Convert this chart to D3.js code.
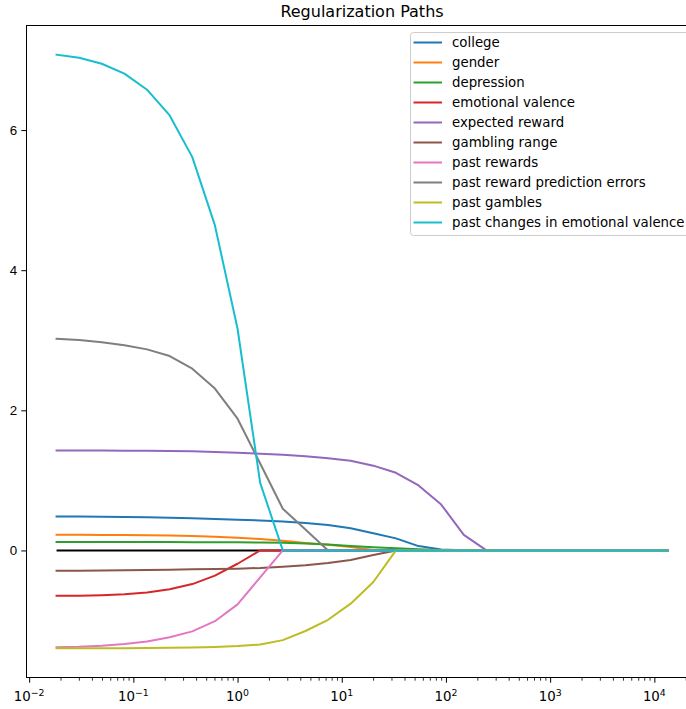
<!DOCTYPE html>
<html>
<head>
<meta charset="utf-8">
<script src="https://cdn.jsdelivr.net/npm/d3@7"></script>
<style>
  body { margin: 0; background: #fff; }
  svg { display: block; font-family: "DejaVu Sans", sans-serif; }
</style>
</head>
<body>
<svg id="chart" width="686" height="709"></svg>
<script>
// alpha values (x), one per fit
const alphas = [0.018316, 0.030197, 0.049787, 0.082085, 0.135335, 0.223130, 0.367879, 0.606531,
    1, 1.648721, 2.718282, 4.481689, 7.389056, 12.182494, 20.085537, 33.115452, 54.598150,
    90.017131, 148.413159, 244.691932, 403.428793, 665.141633, 1096.633158, 1808.042414,
    2980.957987, 4914.768840, 8103.083928, 13359.726830];

const names = ['college', 'gender', 'depression', 'emotional valence', 'expected reward',
    'gambling range', 'past rewards', 'past reward prediction errors', 'past gambles',
    'past changes in emotional valence'];

// coefficient paths
const college = [0.484, 0.483, 0.481, 0.478, 0.473, 0.466, 0.458, 0.449, 0.439, 0.428, 0.412, 0.392, 0.362, 0.318, 0.245, 0.172, 0.062, 0.015, 0.003, 0, 0, 0, 0, 0, 0, 0, 0, 0];
const gender = [0.223, 0.223, 0.222, 0.220, 0.217, 0.213, 0.206, 0.196, 0.182, 0.162, 0.137, 0.107, 0.080, 0.050, 0.008, 0, 0, 0, 0, 0, 0, 0, 0, 0, 0, 0, 0, 0];
const depression = [0.120, 0.120, 0.120, 0.120, 0.119, 0.119, 0.118, 0.117, 0.116, 0.114, 0.110, 0.100, 0.085, 0.065, 0.045, 0.030, 0.018, 0.008, 0.003, 0, 0, 0, 0, 0, 0, 0, 0, 0];
const emotionalValence = [-0.648, -0.645, -0.638, -0.625, -0.600, -0.555, -0.480, -0.360, -0.190, 0, 0, 0, 0, 0, 0, 0, 0, 0, 0, 0, 0, 0, 0, 0, 0, 0, 0, 0];
const expectedReward = [1.426, 1.426, 1.425, 1.424, 1.422, 1.419, 1.414, 1.405, 1.395, 1.380, 1.365, 1.345, 1.315, 1.280, 1.210, 1.108, 0.927, 0.655, 0.223, 0, 0, 0, 0, 0, 0, 0, 0, 0];
const gamblingRange = [-0.291, -0.289, -0.286, -0.282, -0.278, -0.274, -0.270, -0.265, -0.260, -0.250, -0.232, -0.210, -0.180, -0.135, -0.065, 0, 0, 0, 0, 0, 0, 0, 0, 0, 0, 0, 0, 0];
const pastRewards = [-1.382, -1.375, -1.360, -1.335, -1.300, -1.240, -1.155, -1.010, -0.770, -0.385, 0, 0, 0, 0, 0, 0, 0, 0, 0, 0, 0, 0, 0, 0, 0, 0, 0, 0];
const pastRPE = [3.021, 3.005, 2.973, 2.930, 2.870, 2.775, 2.595, 2.310, 1.880, 1.240, 0.595, 0.300, 0, 0, 0, 0, 0, 0, 0, 0, 0, 0, 0, 0, 0, 0, 0, 0];
const pastGambles = [-1.397, -1.397, -1.396, -1.395, -1.393, -1.390, -1.385, -1.377, -1.365, -1.342, -1.280, -1.150, -0.990, -0.760, -0.450, 0, 0, 0, 0, 0, 0, 0, 0, 0, 0, 0, 0, 0];
const pastChangesEV = [7.076, 7.033, 6.947, 6.805, 6.576, 6.209, 5.614, 4.639, 3.164, 0.965, 0, 0, 0, 0, 0, 0, 0, 0, 0, 0, 0, 0, 0, 0, 0, 0, 0, 0];

const series = [college, gender, depression, emotionalValence, expectedReward,
    gamblingRange, pastRewards, pastRPE, pastGambles, pastChangesEV];

const xMajorTicks = [1e-2, 1e-1, 1e0, 1e1, 1e2, 1e3, 1e4];
const xTickExps = ['\u22122', '\u22121', '0', '1', '2', '3', '4'];
const yTicks = [0, 2, 4, 6];

const colors = ['#1f77b4', '#ff7f0e', '#2ca02c', '#d62728', '#9467bd',
    '#8c564b', '#e377c2', '#7f7f7f', '#bcbd22', '#17becf'];

const svg = d3.select('#chart');
const box = { left: 26, right: 698, top: 25, bottom: 678 };

// matplotlib-like 5% margins
const lx = d3.extent(alphas).map(Math.log10);
const mx = (lx[1] - lx[0]) * 0.05;
const x = d3.scaleLog()
    .domain([Math.pow(10, lx[0] - mx), Math.pow(10, lx[1] + mx)])
    .range([box.left, box.right]);

const ext = d3.extent(series.flat());
const my = (ext[1] - ext[0]) * 0.05;
const y = d3.scaleLinear()
    .domain([ext[0] - my, ext[1] + my])
    .range([box.bottom, box.top]);

svg.append('defs').append('clipPath').attr('id', 'plot')
    .append('rect')
    .attr('x', box.left).attr('y', box.top)
    .attr('width', box.right - box.left).attr('height', box.bottom - box.top);

const line = d3.line()
    .x((d, i) => x(alphas[i]))
    .y(d => y(d));

const plot = svg.append('g').attr('clip-path', 'url(#plot)');

// black zero line underneath
plot.append('path')
    .datum(alphas.map(() => 0))
    .attr('d', line)
    .attr('fill', 'none')
    .attr('stroke', '#000')
    .attr('stroke-width', 2);

plot.selectAll('.path')
    .data(series)
    .enter().append('path')
    .attr('class', 'path')
    .attr('d', line)
    .attr('fill', 'none')
    .attr('stroke', (d, i) => colors[i])
    .attr('stroke-width', 2)
    .attr('stroke-linejoin', 'round')
    .attr('stroke-linecap', 'square');

// Y axis
const yAxis = svg.append('g')
    .attr('transform', `translate(${box.left},0)`)
    .call(d3.axisLeft(y).tickValues(yTicks).tickFormat(d3.format('d'))
        .tickSize(4.7).tickPadding(4.2).tickSizeOuter(0));
yAxis.select('.domain').remove();
yAxis.selectAll('text').style('font-size', '13.33px').attr('fill', '#000');
yAxis.selectAll('line').attr('stroke', '#000').attr('stroke-width', 1);

// X axis: minor ticks
const minor = [];
for (let e = -3; e <= 4; e++) {
    for (let m = 2; m <= 9; m++) {
        const v = m * Math.pow(10, e);
        if (v >= x.domain()[0] && v <= x.domain()[1]) minor.push(v);
    }
}
const xMinor = svg.append('g')
    .attr('transform', `translate(0,${box.bottom})`)
    .call(d3.axisBottom(x).tickValues(minor).tickFormat('').tickSize(2.7).tickSizeOuter(0));
xMinor.select('.domain').remove();
xMinor.selectAll('line').attr('stroke', '#000').attr('stroke-width', 0.8);

const xAxis = svg.append('g')
    .attr('transform', `translate(0,${box.bottom})`)
    .call(d3.axisBottom(x).tickValues(xMajorTicks).tickFormat('').tickSize(4.7).tickSizeOuter(0));
xAxis.select('.domain').remove();
xAxis.selectAll('line').attr('stroke', '#000').attr('stroke-width', 1);

const xLabels = svg.append('g').selectAll('text')
    .data(xMajorTicks)
    .enter().append('text')
    .attr('x', d => x(d))
    .attr('y', 701)
    .attr('text-anchor', 'middle')
    .style('font-size', '13.33px');
xLabels.append('tspan').text('10');
xLabels.append('tspan')
    .attr('dy', -5.5)
    .style('font-size', '9.4px')
    .text((d, i) => xTickExps[i]);

// spines
svg.append('rect')
    .attr('x', box.left + 0.5).attr('y', box.top + 0.5)
    .attr('width', box.right - box.left - 1).attr('height', box.bottom - box.top - 1)
    .attr('fill', 'none')
    .attr('stroke', '#000')
    .attr('stroke-width', 1);

// title
svg.append('text')
    .attr('x', (box.left + box.right) / 2)
    .attr('y', 17)
    .attr('text-anchor', 'middle')
    .style('font-size', '16px')
    .text('Regularization Paths');

// legend
const lg = svg.append('g').attr('transform', 'translate(410.5,32.5)');
lg.append('rect')
    .attr('width', 280).attr('height', 203)
    .attr('rx', 3)
    .attr('fill', '#fff').attr('fill-opacity', 0.8)
    .attr('stroke', '#cccccc').attr('stroke-width', 1);
const rows = lg.selectAll('.row')
    .data(names)
    .enter().append('g')
    .attr('class', 'row')
    .attr('transform', (d, i) => `translate(0,${10 + i * 20})`);
rows.append('line')
    .attr('x1', 3).attr('x2', 31.5)
    .attr('stroke', (d, i) => colors[i])
    .attr('stroke-width', 2);
rows.append('text')
    .attr('x', 41.5)
    .attr('dy', '0.35em')
    .style('font-size', '13.33px')
    .text(d => d);
</script>
</body>
</html>
